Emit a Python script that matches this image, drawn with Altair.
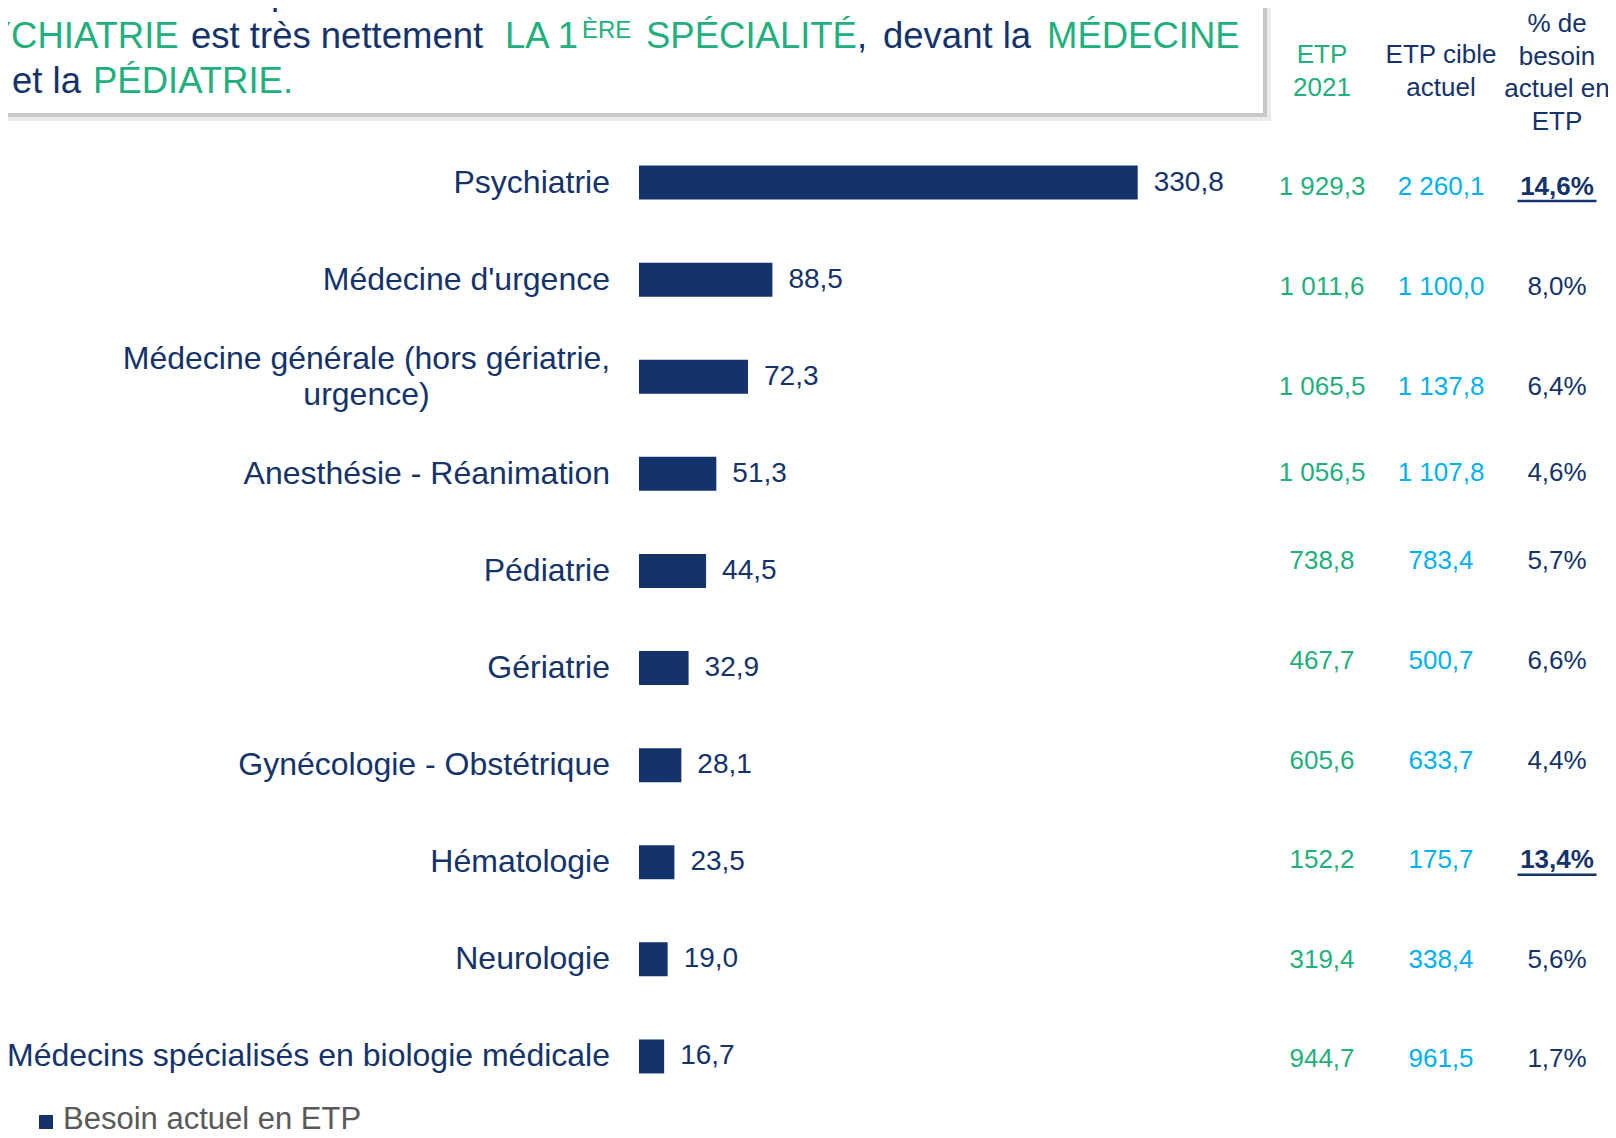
import altair as alt
import pandas as pd

# ---------------- data ----------------
categories = [
    "Psychiatrie",
    "Médecine d'urgence",
    "Médecine générale (hors gériatrie, urgence)",
    "Anesthésie - Réanimation",
    "Pédiatrie",
    "Gériatrie",
    "Gynécologie - Obstétrique",
    "Hématologie",
    "Neurologie",
    "Médecins spécialisés en biologie médicale",
]
besoin_etp = [330.8, 88.5, 72.3, 51.3, 44.5, 32.9, 28.1, 23.5, 19.0, 16.7]
etp_2021 = [1929.3, 1011.6, 1065.5, 1056.5, 738.8, 467.7, 605.6, 152.2, 319.4, 944.7]
etp_cible = [2260.1, 1100.0, 1137.8, 1107.8, 783.4, 500.7, 633.7, 175.7, 338.4, 961.5]
pct_besoin = [14.6, 8.0, 6.4, 4.6, 5.7, 6.6, 4.4, 13.4, 5.6, 1.7]

table_headers = [["ETP", "2021"], ["ETP cible", "actuel"], ["% de", "besoin", "actuel en", "ETP"]]
legend_label = "Besoin actuel en ETP"

header_segments = [
    "SPÉCIALITÉS", "comptant actuellement des besoins entre l’ETP  2021 et l’ETP",
    "PSYCHIATRIE", "est très nettement", "LA 1", "ÈRE", "SPÉCIALITÉ", ",", "devant la", "MÉDECINE",
    "et la", "PÉDIATRIE.",
]
header_roles = ["accent", "text", "accent", "text", "accent", "accent", "accent", "text", "text",
                "accent", "text", "accent"]

# ---------------- layout / style ----------------
FONT = "Liberation Sans"
NAVY = "#14336A"
GREEN = "#21AF7D"
BLUE = "#00B0F0"
GREY_TXT = "#595959"
AXIS_GREY = "#D9D9D9"

# (x, baseline y, font size) relative to plot origin
header_layout = [
    (-689, -130, 36.5), (-437, -130, 36.5),
    (-701, -86, 36.5), (-448, -86, 36.5), (-134, -86, 36.5), (-57, -96, 24), (7, -86, 36.5),
    (218, -86, 36.5), (244, -86, 36.5), (408, -86, 36.5),
    (-627, -41, 36.5), (-546, -41, 36.5),
]
col_x = [683, 802, 918]
header_top_y = [-79, -79, -110]
table_row_shift = [4, 7, 10, -1, -10, -7, -4, -2, 1, 3]
BAND_HALF = 17


def fr(v):
    return f"{v:,.1f}".replace(",", " ").replace(".", ",")


df = pd.DataFrame({
    "cat": categories,
    "besoin": besoin_etp,
    "besoin_lbl": [fr(v) for v in besoin_etp],
    "etp21_lbl": [fr(v) for v in etp_2021],
    "cible_lbl": [fr(v) for v in etp_cible],
    "pct_lbl": [fr(v) + "%" for v in pct_besoin],
    "pct": pct_besoin,
    "lines": [c.replace(", ", ",|").split("|") if len(c) > 40 and "(" in c else [c] for c in categories],
    "shift": [s + BAND_HALF for s in table_row_shift],
})
df["wrapped"] = df["lines"].apply(lambda l: len(l) > 1)

one = pd.DataFrame({"k": [0]})

Y_noaxis = alt.Y("cat:N", sort=categories, title=None, axis=None,
                 scale=alt.Scale(paddingInner=0.65, paddingOuter=0.325))
X = alt.X("besoin:Q", scale=alt.Scale(domain=[0, 400], nice=False), axis=None, title=None)

layers = []

# header box with shadow
layers.append(alt.Chart(one).mark_rect(color="#EBEBEB").encode(
    x=alt.value(-700), x2=alt.value(632), y=alt.value(-300), y2=alt.value(-13)))
layers.append(alt.Chart(one).mark_rect(color="#C8C8C8").encode(
    x=alt.value(-700), x2=alt.value(628), y=alt.value(-300), y2=alt.value(-17)))
layers.append(alt.Chart(one).mark_rect(color="white").encode(
    x=alt.value(-700), x2=alt.value(624), y=alt.value(-300), y2=alt.value(-21)))

for txt, role, (hx, hy, hs) in zip(header_segments, header_roles, header_layout):
    layers.append(alt.Chart(one).mark_text(
        text=txt, align="left", baseline="alphabetic", font=FONT, fontSize=hs,
        color=GREEN if role == "accent" else NAVY).encode(x=alt.value(hx), y=alt.value(hy)))

# bars
layers.append(alt.Chart(df).mark_bar(color=NAVY).encode(
    x=X, y=alt.Y("cat:N", sort=categories, title=None,
                 scale=alt.Scale(paddingInner=0.65, paddingOuter=0.325),
                 axis=alt.Axis(labels=False, ticks=False, grid=False, domainColor=AXIS_GREY,
                               domainWidth=2.5))))

# value labels
layers.append(alt.Chart(df).mark_text(
    align="left", baseline="middle", dx=16, font=FONT, fontSize=28, color=NAVY).encode(
    x=X, y=Y_noaxis, text="besoin_lbl:N"))

# category labels
layers.append(alt.Chart(df).transform_filter("!datum.wrapped").mark_text(
    align="right", baseline="middle", font=FONT, fontSize=32, color=NAVY).encode(
    x=alt.value(-29), y=Y_noaxis, text="cat:N"))
layers.append(alt.Chart(df).transform_filter("datum.wrapped").mark_text(
    align="center", baseline="middle", font=FONT, fontSize=32, color=NAVY, lineHeight=36,
    dy=-18).encode(
    x=alt.value(-272.5), y=Y_noaxis, text="lines:N"))

# table headers
for lines, cx, cy, col in zip(table_headers, col_x, header_top_y, [GREEN, NAVY, NAVY]):
    layers.append(alt.Chart(one).mark_text(
        text=lines, align="center", baseline="middle", font=FONT, fontSize=26, color=col,
        lineHeight=32.5).encode(x=alt.value(cx), y=alt.value(cy)))

# table values
YO = alt.YOffset("shift:Q", scale=None)
layers.append(alt.Chart(df).mark_text(
    align="center", baseline="middle", font=FONT, fontSize=26, color=GREEN).encode(
    x=alt.value(col_x[0]), y=Y_noaxis, yOffset=YO, text="etp21_lbl:N"))
layers.append(alt.Chart(df).mark_text(
    align="center", baseline="middle", font=FONT, fontSize=26, color=BLUE).encode(
    x=alt.value(col_x[1]), y=Y_noaxis, yOffset=YO, text="cible_lbl:N"))
layers.append(alt.Chart(df).transform_filter("datum.pct <= 10").mark_text(
    align="center", baseline="middle", font=FONT, fontSize=26, color=NAVY).encode(
    x=alt.value(col_x[2]), y=Y_noaxis, yOffset=YO, text="pct_lbl:N"))
layers.append(alt.Chart(df).transform_filter("datum.pct > 10").mark_text(
    align="center", baseline="middle", font=FONT, fontSize=26, color=NAVY,
    fontWeight="bold").encode(
    x=alt.value(col_x[2]), y=Y_noaxis, yOffset=YO, text="pct_lbl:N"))
layers.append(alt.Chart(df).transform_filter("datum.pct > 10").transform_calculate(
    ushift="datum.shift + 14.5").mark_rule(color=NAVY, strokeWidth=2.5).encode(
    x=alt.value(col_x[2] - 39.5), x2=alt.value(col_x[2] + 39.5), y=Y_noaxis,
    yOffset=alt.YOffset("ushift:Q", scale=None)))

# legend
layers.append(alt.Chart(one).mark_rect(color=NAVY).encode(
    x=alt.value(-600), x2=alt.value(-586), y=alt.value(981), y2=alt.value(995)))
layers.append(alt.Chart(one).mark_text(
    text=legend_label, align="left", baseline="alphabetic", font=FONT, fontSize=31,
    color=GREY_TXT).encode(x=alt.value(-576), y=alt.value(995)))

chart = alt.layer(*layers).properties(
    width=603, height=971,
    autosize=alt.AutoSizeParams(type="none"),
    padding={"left": 631, "top": 126, "right": 366, "bottom": 25},
).configure_view(stroke=None)

chart.save("out.html", embed_options={"renderer": "svg", "actions": False})
